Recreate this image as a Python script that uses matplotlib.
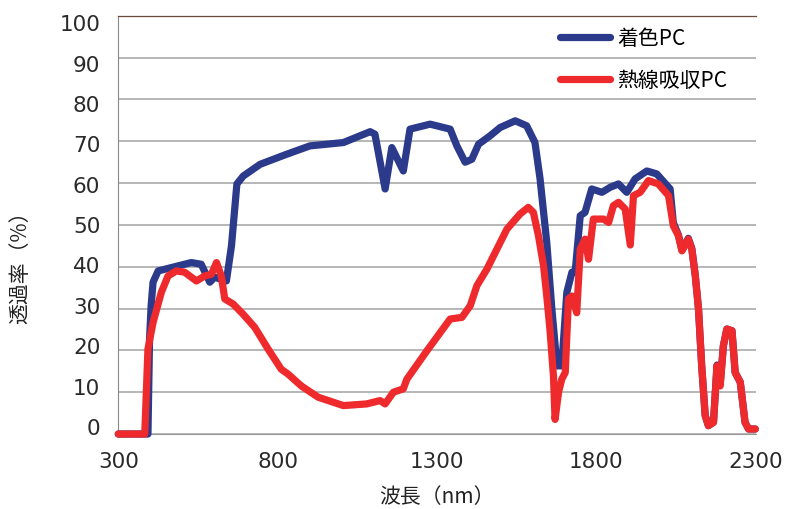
import numpy as np
import matplotlib.pyplot as plt

plt.rcParams['font.family'] = ['Noto Sans CJK JP', 'DejaVu Sans']

# 着色PC (blue)
wl_blue = [300, 393, 398, 403, 409, 425, 487, 529, 560, 587, 602, 639, 655, 672,
           692, 745, 828, 901, 1006, 1090, 1105, 1137, 1158, 1194, 1215, 1278,
           1341, 1362, 1388, 1409, 1430, 1466, 1498, 1545, 1581, 1607, 1623,
           1644, 1660, 1676, 1691, 1707, 1723, 1733, 1749, 1764, 1785, 1817,
           1843, 1869, 1895, 1921, 1958, 1989, 2031, 2041, 2057, 2068, 2088,
           2099, 2110, 2120, 2130, 2141, 2151, 2167, 2178, 2188, 2198, 2209,
           2225, 2235, 2251, 2266, 2277, 2298]
t_blue = [0, 0, 22.7, 30.7, 36.3, 39.0, 40.2, 41.0, 40.6, 36.3, 37.5, 36.6, 45.0, 59.8,
          61.7, 64.5, 66.9, 68.9, 69.7, 72.3, 71.7, 58.6, 68.5, 62.9, 72.9, 74.1,
          72.9, 68.9, 65.0, 65.7, 69.3, 71.3, 73.3, 74.9, 73.7, 69.7, 61.0,
          45.8, 29.9, 16.3, 16.3, 33.9, 38.7, 38.7, 52.2, 53.0, 58.6, 57.8,
          59.0, 59.8, 57.8, 61.0, 62.9, 62.2, 58.6, 50.5, 47.6, 44.0, 46.8,
          44.4, 37.8, 29.9, 16.3, 4.4, 2.0, 2.8, 16.5, 12.0, 21.1, 25.1,
          24.7, 14.7, 12.4, 2.8, 1.2, 1.2]

# 熱線吸収PC (red)
wl_red = [300, 383, 393, 409, 435, 456, 482, 508, 545, 571, 592, 608, 623, 634,
          660, 691, 728, 770, 811, 833, 874, 927, 1006, 1079, 1121, 1137, 1163,
          1194, 1205, 1268, 1341, 1378, 1404, 1425, 1456, 1519, 1560, 1586,
          1602, 1618, 1634, 1644, 1654, 1665, 1670, 1681, 1691, 1702, 1712,
          1723, 1738, 1749, 1764, 1775, 1790, 1822, 1838, 1853, 1869, 1890,
          1906, 1916, 1937, 1963, 1994, 2026, 2041, 2057, 2068, 2088, 2099,
          2110, 2120, 2130, 2141, 2151, 2167, 2178, 2188, 2198, 2209, 2225,
          2235, 2251, 2266, 2277, 2298]
t_red = [0, 0, 20.3, 26.7, 33.9, 37.8, 39.0, 38.7, 36.6, 37.8, 38.2, 41.0, 37.8, 32.3,
         31.1, 28.7, 25.5, 20.3, 15.5, 14.3, 11.5, 8.8, 6.8, 7.2, 8.0, 7.2, 10.0,
         10.8, 13.1, 19.9, 27.5, 27.9, 30.7, 35.5, 39.4, 49.0, 52.6, 54.2,
         53.0, 47.4, 40.2, 33.0, 25.0, 13.9, 3.5, 10.0, 13.1, 14.7, 32.3,
         33.0, 29.0, 44.2, 46.6, 41.8, 51.4, 51.4, 50.6, 54.6, 55.4, 53.8,
         45.2, 57.0, 57.8, 60.6, 59.8, 57.0, 49.8, 47.4, 43.8, 46.6, 44.2,
         37.8, 29.9, 16.3, 4.4, 2.0, 2.8, 16.3, 11.5, 21.1, 25.1, 24.7,
         14.7, 12.4, 2.8, 1.2, 1.2]

yticks = np.arange(0, 101, 10)
xticks = [300, 800, 1300, 1800, 2300]

fig = plt.figure(figsize=(7.94, 5.10), dpi=100)
ax = fig.add_axes([0.149, 0.147, 0.803, 0.820])

ax.plot(wl_blue, t_blue, color='#2b3a8a', lw=5.2, label='着色PC', clip_on=False,
        solid_joinstyle='round', solid_capstyle='round', zorder=3)
ax.plot(wl_red, t_red, color='#ee2a2d', lw=5.2, label='熱線吸収PC', clip_on=False,
        solid_joinstyle='round', solid_capstyle='round', zorder=4)

ax.set_xlim(300, 2300)
ax.set_ylim(0, 100)

# gridlines on the true values, labels slightly squeezed like the original
ax.set_yticks(yticks)
ax.set_yticklabels([])
ax.set_yticks(1.9 + yticks * 0.966, [str(v) for v in yticks], minor=True)
ax.tick_params(axis='y', which='both', length=0)
ax.tick_params(axis='y', which='minor', labelsize=15.5, pad=13, labelcolor='#2a2a2a')
ax.set_xticks(xticks, [str(v) for v in xticks])
ax.tick_params(axis='x', length=0, labelsize=15.5, pad=12, labelcolor='#2a2a2a')
for lab in ax.get_xticklabels() + ax.get_yticklabels(minor=True):
    lab.set_fontfamily('DejaVu Sans')

ax.grid(axis='y', which='major', color='#aaaaaa', lw=1.2)
ax.set_axisbelow(True)
ax.spines['right'].set_visible(False)
ax.spines['left'].set_color('#888888')
ax.spines['bottom'].set_color('#999999')
ax.spines['top'].set_color('#6b4a3a')
ax.spines['top'].set_linewidth(0.9)

ax.set_xlabel('波長（nm）', fontsize=15, labelpad=10, color='#222222')
ax.set_ylabel('透過率（%）', fontsize=15, color='#222222')
ax.yaxis.set_label_coords(-0.137, 0.414)

ax.legend(loc='upper left', bbox_to_anchor=(0.663, 1.018), frameon=False, fontsize=15,
          handlelength=2.4, handletextpad=0.35, labelspacing=0.95)

fig.savefig('out.png', dpi=100)
